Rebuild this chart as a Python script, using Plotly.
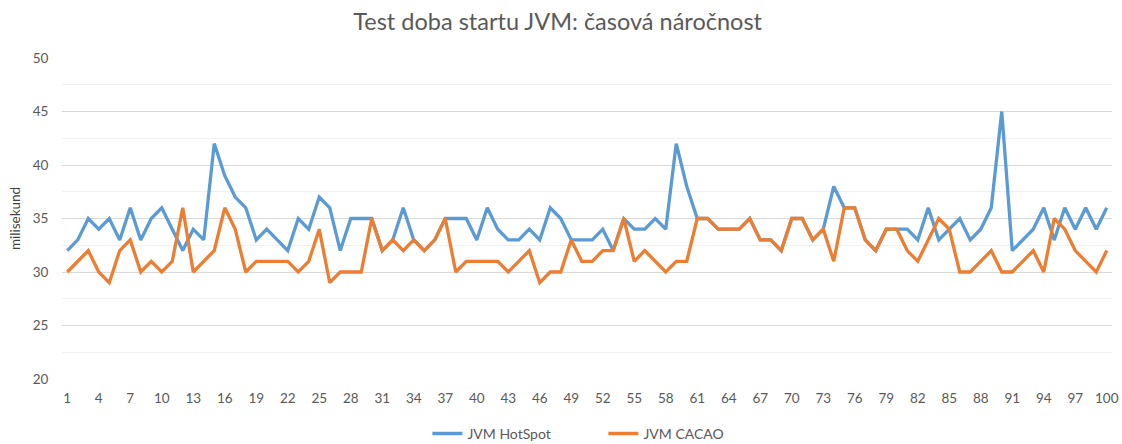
import plotly.graph_objects as go

runs = list(range(1, 101))

hotspot = [32, 33, 35, 34, 35, 33, 36, 33, 35, 36,
           34, 32, 34, 33, 42, 39, 37, 36, 33, 34,
           33, 32, 35, 34, 37, 36, 32, 35, 35, 35,
           32, 33, 36, 33, 32, 33, 35, 35, 35, 33,
           36, 34, 33, 33, 34, 33, 36, 35, 33, 33,
           33, 34, 32, 35, 34, 34, 35, 34, 42, 38,
           35, 35, 34, 34, 34, 35, 33, 33, 32, 35,
           35, 33, 34, 38, 36, 36, 33, 32, 34, 34,
           34, 33, 36, 33, 34, 35, 33, 34, 36, 45,
           32, 33, 34, 36, 33, 36, 34, 36, 34, 36]

cacao = [30, 31, 32, 30, 29, 32, 33, 30, 31, 30,
         31, 36, 30, 31, 32, 36, 34, 30, 31, 31,
         31, 31, 30, 31, 34, 29, 30, 30, 30, 35,
         32, 33, 32, 33, 32, 33, 35, 30, 31, 31,
         31, 31, 30, 31, 32, 29, 30, 30, 33, 31,
         31, 32, 32, 35, 31, 32, 31, 30, 31, 31,
         35, 35, 34, 34, 34, 35, 33, 33, 32, 35,
         35, 33, 34, 31, 36, 36, 33, 32, 34, 34,
         32, 31, 33, 35, 34, 30, 30, 31, 32, 30,
         30, 31, 32, 30, 35, 34, 32, 31, 30, 32]

x_ticks = list(range(1, 101, 3))
y_ticks = [20, 25, 30, 35, 40, 45, 50]

fig = go.Figure()
fig.add_trace(go.Scatter(x=runs, y=hotspot, mode="lines", name="JVM HotSpot",
                         line=dict(color="#5B9BD5", width=3.3)))
fig.add_trace(go.Scatter(x=runs, y=cacao, mode="lines", name="JVM CACAO",
                         line=dict(color="#ED7D31", width=3.3)))

fig.update_layout(
    width=1122, height=444,
    margin=dict(l=62, r=10, t=58, b=65, autoexpand=False),
    paper_bgcolor="white", plot_bgcolor="white",
    font=dict(family="Lato, Open Sans, sans-serif", color="#595959", size=13),
    title=dict(text="Test doba startu JVM: časová náročnost",
               x=0.497, xanchor="center", y=0.95, yanchor="middle",
               font=dict(size=23.5, color="#595959")),
    legend=dict(orientation="h", x=0.348, xanchor="left", y=-0.171, yanchor="middle",
                font=dict(size=14, color="#595959"), itemwidth=30,
                entrywidth=131, entrywidthmode="pixels"),
    xaxis=dict(range=[0.5, 100.5], tickmode="array", tickvals=x_ticks,
               ticktext=[str(v) for v in x_ticks], showgrid=False, zeroline=False,
               showline=False, ticks="outside", ticklen=7, tickcolor="rgba(0,0,0,0)",
               automargin=False, tickfont=dict(size=13.5, color="#595959")),
    yaxis=dict(range=[20, 50], tickmode="array", tickvals=y_ticks,
               showgrid=True, gridcolor="#D9D9D9", gridwidth=1, zeroline=False,
               showline=False, ticks="outside", ticklen=10, tickcolor="rgba(0,0,0,0)",
               automargin=False,
               minor=dict(dtick=2.5, tick0=20, showgrid=True, gridcolor="#F0F0F0", gridwidth=1,
                          ticks=""),
               title=dict(text="milisekund", font=dict(size=13.5, color="#404040"), standoff=8),
               tickfont=dict(size=13.5, color="#595959")),
)

fig.write_html("out.html", config={"displayModeBar": False},
               post_script="document.body.style.margin='0';document.body.style.overflow='hidden';")
